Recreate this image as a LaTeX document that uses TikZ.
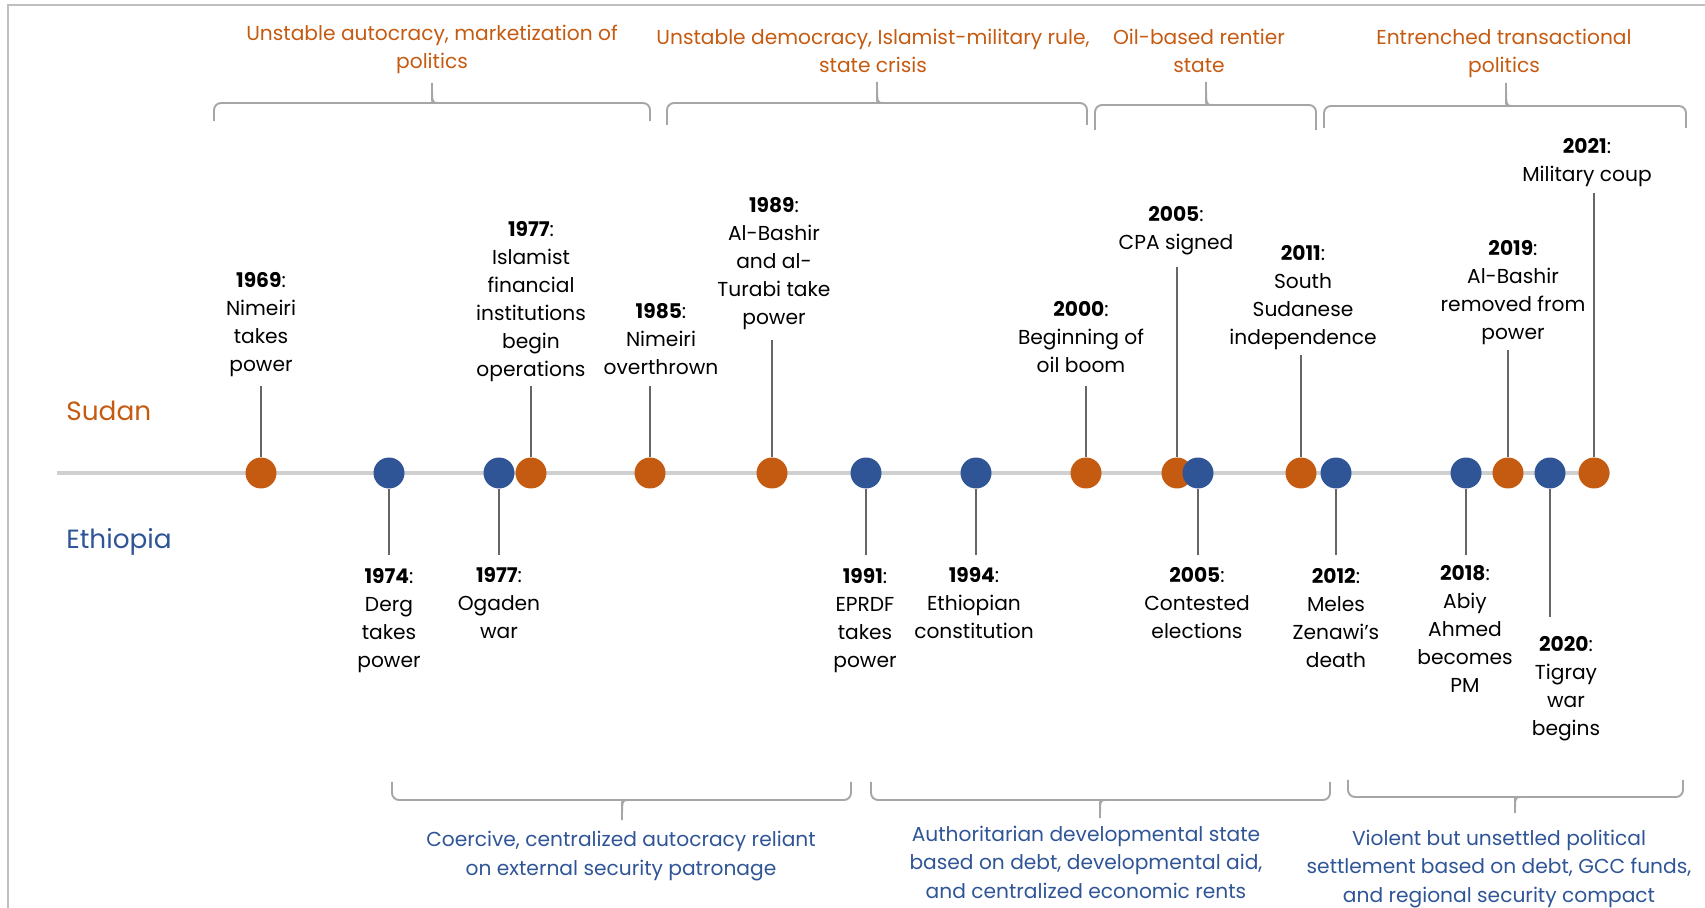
\documentclass[tikz,border=0pt]{standalone}
\usepackage{fontspec}
\setmainfont{Poppins}
\usepackage{tikz}
\definecolor{sudanorange}{HTML}{C55A11}
\definecolor{ethioblue}{HTML}{2F5597}
\definecolor{axisgrey}{HTML}{D0D0D0}
\definecolor{bracegrey}{HTML}{A6A6A6}
\definecolor{framegrey}{HTML}{BFBFBF}
\tikzstyle{orangedot}=[circle,fill=sudanorange,
                       inner sep=0pt,minimum size=0.62cm]
\tikzstyle{bluedot}=[circle,fill=ethioblue,
                     inner sep=0pt,minimum size=0.62cm]
% multi-line nodes sit on the baseline of their last line
\tikzstyle{event}=[anchor=base,align=center,inner sep=0pt,
                   font=\fontsize{11.5}{16}\selectfont]
\tikzstyle{period}=[anchor=base,align=center,inner sep=0pt,
                    font=\fontsize{11.5}{16}\selectfont]
\tikzstyle{country}=[anchor=base west,inner sep=0pt,
                     font=\fontsize{15}{18}\selectfont]
\tikzstyle{stemline}=[draw=black!60,line width=0.6pt]
\tikzstyle{axisline}=[draw=axisgrey,line width=2.4pt]
\tikzstyle{bracket}=[draw=bracegrey,line width=1.1pt]

\begin{document}
\begin{tikzpicture}[x=0.02cm,y=-0.02cm]
  % left x, right x, tip x, bar y, end y, tip y
  \newcommand{\periodbrace}[6]{%
    \draw[bracket,rounded corners=4pt] (#1,#5) |- (#3-6,#4)
      [sharp corners] .. controls (#3,#4) .. (#3,#6)
      .. controls (#3,#4) .. (#3+6,#4)
      [rounded corners=4pt] -| (#2,#5);}
  \useasboundingbox (0,0) rectangle (1705,908);
  \draw[framegrey,line width=1pt] (8,908) -- (8,5) -- (1705,5);

  % time axis
  \coordinate (tl0) at (57,473);
  \coordinate (tl1) at (1610,473);
  \draw[axisline] (tl0) -- (tl1);

  % dots, left to right
  \node (s69) at (261,473) [orangedot]{};
  \node (e74) at (389,473) [bluedot]{};
  \node (e77) at (499,473) [bluedot]{};
  \node (s77) at (531,473) [orangedot]{};
  \node (s85) at (650,473) [orangedot]{};
  \node (s89) at (772,473) [orangedot]{};
  \node (e91) at (866,473) [bluedot]{};
  \node (e94) at (976,473) [bluedot]{};
  \node (s00) at (1086,473) [orangedot]{};
  \node (s05) at (1177,473) [orangedot]{};
  \node (e05) at (1198,473) [bluedot]{};
  \node (s11) at (1301,473) [orangedot]{};
  \node (e12) at (1336,473) [bluedot]{};
  \node (e18) at (1466,473) [bluedot]{};
  \node (s19) at (1508,473) [orangedot]{};
  \node (e20) at (1550,473) [bluedot]{};
  \node (s21) at (1594,473) [orangedot]{};

  % stem ends
  \coordinate (s69a) at (261,386);
  \coordinate (s77a) at (531,386);
  \coordinate (s85a) at (650,386);
  \coordinate (s89a) at (772,340);
  \coordinate (s00a) at (1086,386);
  \coordinate (s05a) at (1177,267);
  \coordinate (s11a) at (1301,355);
  \coordinate (s19a) at (1508,350);
  \coordinate (s21a) at (1594,193);
  \coordinate (e74a) at (389,555);
  \coordinate (e77a) at (499,555);
  \coordinate (e91a) at (866,555);
  \coordinate (e94a) at (976,555);
  \coordinate (e05a) at (1198,555);
  \coordinate (e12a) at (1336,555);
  \coordinate (e18a) at (1466,555);
  \coordinate (e20a) at (1550,617);
  \draw[stemline] (s69) -- (s69a);
  \draw[stemline] (s77) -- (s77a);
  \draw[stemline] (s85) -- (s85a);
  \draw[stemline] (s89) -- (s89a);
  \draw[stemline] (s00) -- (s00a);
  \draw[stemline] (s05) -- (s05a);
  \draw[stemline] (s11) -- (s11a);
  \draw[stemline] (s19) -- (s19a);
  \draw[stemline] (s21) -- (s21a);
  \draw[stemline] (e74) -- (e74a);
  \draw[stemline] (e77) -- (e77a);
  \draw[stemline] (e91) -- (e91a);
  \draw[stemline] (e94) -- (e94a);
  \draw[stemline] (e05) -- (e05a);
  \draw[stemline] (e12) -- (e12a);
  \draw[stemline] (e18) -- (e18a);
  \draw[stemline] (e20) -- (e20a);

  % Sudan events
  \node (s69t) at (261,372) [event]{\textbf{1969}:\\Nimeiri\\takes\\power};
  \node (s77t) at (531,377) [event]{\textbf{1977}:\\Islamist\\financial\\institutions\\begin\\operations};
  \node (s85t) at (661,375) [event]{\textbf{1985}:\\Nimeiri\\overthrown};
  \node (s89t) at (774,325) [event]{\textbf{1989}:\\Al-Bashir\\and al-\\Turabi take\\power};
  \node (s00t) at (1081,373) [event]{\textbf{2000}:\\Beginning of\\oil boom};
  \node (s05t) at (1176,250) [event]{\textbf{2005}:\\CPA signed};
  \node (s11t) at (1303,345) [event]{\textbf{2011}:\\South\\Sudanese\\independence};
  \node (s19t) at (1513,340) [event]{\textbf{2019}:\\Al-Bashir\\removed from\\power};
  \node (s21t) at (1587,182) [event]{\textbf{2021}:\\Military coup};

  % Ethiopia events
  \node (e74t) at (389,668) [event]{\textbf{1974}:\\Derg\\takes\\power};
  \node (e77t) at (499,639) [event]{\textbf{1977}:\\Ogaden\\war};
  \node (e91t) at (865,668) [event]{\textbf{1991}:\\EPRDF\\takes\\power};
  \node (e94t) at (974,639) [event]{\textbf{1994}:\\Ethiopian\\constitution};
  \node (e05t) at (1197,639) [event]{\textbf{2005}:\\Contested\\elections};
  \node (e12t) at (1336,668) [event]{\textbf{2012}:\\Meles\\Zenawi’s\\death};
  \node (e18t) at (1465,693) [event]{\textbf{2018}:\\Abiy\\Ahmed\\becomes\\PM};
  \node (e20t) at (1566,736) [event]{\textbf{2020}:\\Tigray\\war\\begins};

  % row titles
  \node (sudan) at (66,421) [country,text=sudanorange]{Sudan};
  \node (ethiopia) at (66,549) [country,text=ethioblue]{Ethiopia};

  % Sudan periods
  \periodbrace{214}{650}{432}{103}{121}{83}
  \periodbrace{667}{1087}{877}{103}{125}{82}
  \periodbrace{1095}{1316}{1206}{105}{130}{82}
  \periodbrace{1324}{1686}{1506}{106}{128}{83}
  \node (sp1) at (432,69) [period,text=sudanorange]{Unstable autocracy, marketization of\\politics};
  \node (sp2) at (873,73) [period,text=sudanorange]{Unstable democracy, Islamist-military rule,\\state crisis};
  \node (sp3) at (1199,73) [period,text=sudanorange]{Oil-based rentier\\state};
  \node (sp4) at (1504,73) [period,text=sudanorange]{Entrenched transactional\\politics};

  % Ethiopia periods
  \periodbrace{392}{851}{622}{800}{782}{820}
  \periodbrace{871}{1330}{1100}{800}{782}{818}
  \periodbrace{1348}{1683}{1515}{797}{780}{813}
  \node (ep1) at (621,875) [period,text=ethioblue]{Coercive, centralized autocracy reliant\\on external security patronage};
  \node (ep2) at (1086,898) [period,text=ethioblue]{Authoritarian developmental state\\based on debt, developmental aid,\\and centralized economic rents};
  \node (ep3) at (1499,902) [period,text=ethioblue]{Violent but unsettled political\\settlement based on debt, GCC funds,\\and regional security compact};
\end{tikzpicture}
\end{document}
